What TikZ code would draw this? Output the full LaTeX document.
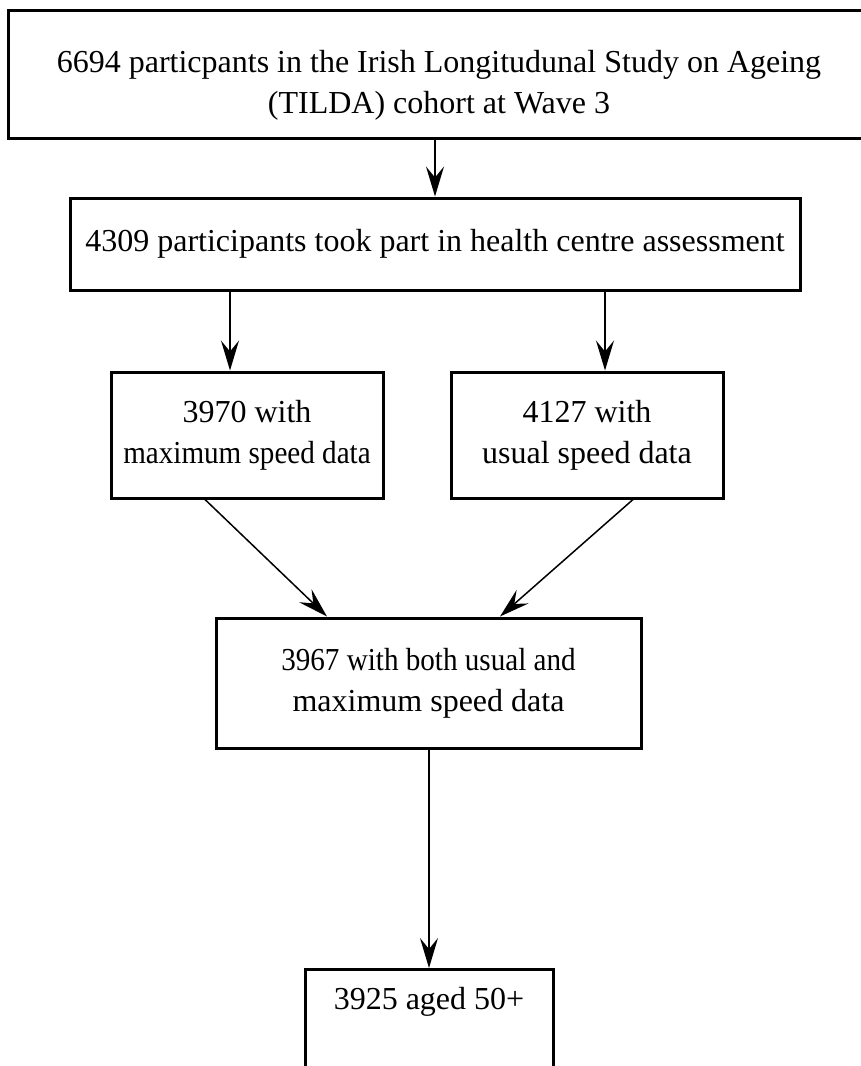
\documentclass[tikz,border=0pt]{standalone}
\usepackage{fontspec}
\setmainfont{Liberation Serif}
\newfontfamily\narrowserif[FakeStretch=0.91]{Liberation Serif}
\usetikzlibrary{arrows.meta}

\tikzset{
    box/.style={draw, line width=1.5pt, align=center, inner sep=0pt,
        font=\fontsize{16}{20.5}\selectfont},
    arr/.style={-{Stealth[length=15pt, width=9pt, inset=5.5pt]}, line width=0.75pt},
}

\begin{document}
\begin{tikzpicture}[x=1pt, y=-1pt]
    \useasboundingbox (0,0) rectangle (430.5,533);

    \node[box, minimum width=431pt, minimum height=64pt] (cohort) at (219.5,37)
        {\rule{0pt}{22pt}6694 particpants in the Irish Longitudunal Study on Ageing\\(TILDA) cohort at Wave 3};
    \node[box, minimum width=365pt, minimum height=46pt] (centre) at (217.5,122)
        {4309 participants took part in health centre assessment};
    \node[box, minimum width=136pt, minimum height=63pt] (maxspd) at (123.5,217.5)
        {3970 with\\{\narrowserif maximum speed data}};
    \node[box, minimum width=136pt, minimum height=63pt] (usualspd) at (293.5,217.5)
        {4127 with\\usual speed data};
    \node[box, minimum width=212.5pt, minimum height=65pt] (both) at (214.25,341.5)
        {{\narrowserif 3967 with both usual and}\\maximum speed data};
    \node[box, anchor=north, minimum width=124pt, inner ysep=9pt, text depth=40pt] (aged) at (214.5,484)
        {3925 aged 50+};

    \draw[arr] (cohort.south -| centre.north) -- (centre.north);
    \draw[arr] ([xshift=-8.5pt]centre.south -| maxspd.north) -- ([xshift=-8.5pt]maxspd.north);
    \draw[arr] ([xshift=9pt]centre.south -| usualspd.north) -- ([xshift=9pt]usualspd.north);
    \draw[arr] ([xshift=-21pt]maxspd.south) -- ([xshift=-50.75pt]both.north);
    \draw[arr] ([xshift=23pt]usualspd.south) -- ([xshift=35.75pt]both.north);
    \draw[arr] (both.south -| aged.north) -- (aged.north);
\end{tikzpicture}
\end{document}
